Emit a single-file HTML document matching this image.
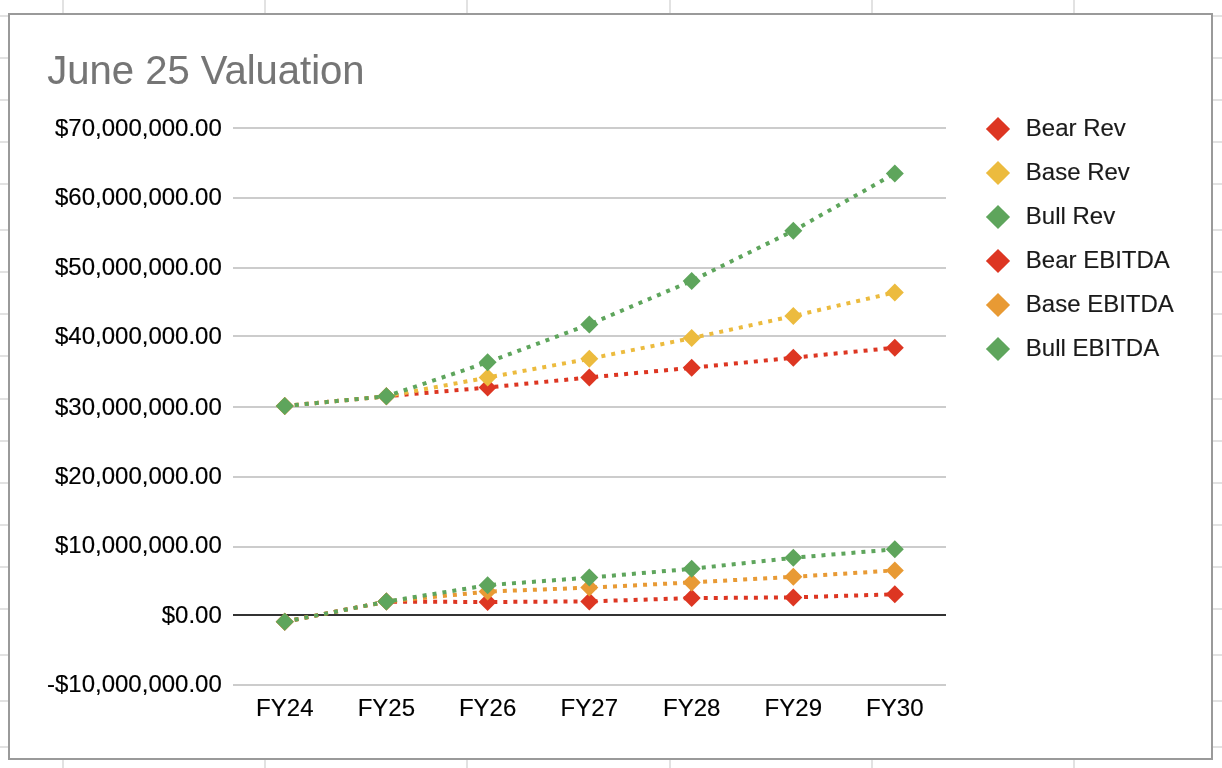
<!DOCTYPE html>
<html lang="en">
<head>
<meta charset="utf-8">
<title>June 25 Valuation</title>
<style>
html,body{margin:0;padding:0;background:#fff;}
body{width:1222px;height:768px;overflow:hidden;position:relative;font-family:"Liberation Sans",Arial,sans-serif;}
svg{position:absolute;left:0;top:0;display:block;}
text{font-family:"Liberation Sans",Arial,sans-serif;}
.ax text{font-size:24px;fill:#000000;stroke:#000000;stroke-width:0.15px;}
.ttl{font-size:40px;fill:#757575;stroke:#757575;stroke-width:0.1px;}
.lg text{font-size:24px;fill:#1a1a1a;stroke:#1a1a1a;stroke-width:0.15px;}
</style>
</head>
<body>
<svg width="1222" height="768" viewBox="0 0 1222 768">
<g id="sheet-grid" shape-rendering="crispEdges">
<rect x="0" y="15" width="1222" height="2" fill="#e2e2e2"/>
<rect x="0" y="57" width="1222" height="2" fill="#e2e2e2"/>
<rect x="0" y="99" width="1222" height="2" fill="#e2e2e2"/>
<rect x="0" y="141" width="1222" height="2" fill="#e2e2e2"/>
<rect x="0" y="183" width="1222" height="2" fill="#e2e2e2"/>
<rect x="0" y="229" width="1222" height="2" fill="#e2e2e2"/>
<rect x="0" y="271" width="1222" height="2" fill="#e2e2e2"/>
<rect x="0" y="313" width="1222" height="2" fill="#e2e2e2"/>
<rect x="0" y="355" width="1222" height="2" fill="#e2e2e2"/>
<rect x="0" y="398" width="1222" height="2" fill="#e2e2e2"/>
<rect x="0" y="440" width="1222" height="2" fill="#e2e2e2"/>
<rect x="0" y="482" width="1222" height="2" fill="#e2e2e2"/>
<rect x="0" y="524" width="1222" height="2" fill="#e2e2e2"/>
<rect x="0" y="566" width="1222" height="2" fill="#e2e2e2"/>
<rect x="0" y="608" width="1222" height="2" fill="#e2e2e2"/>
<rect x="0" y="654" width="1222" height="2" fill="#e2e2e2"/>
<rect x="0" y="700" width="1222" height="2" fill="#e2e2e2"/>
<rect x="0" y="746" width="1222" height="2" fill="#e2e2e2"/>
<rect x="62" y="0" width="2" height="768" fill="#e2e2e2"/>
<rect x="264" y="0" width="2" height="768" fill="#e2e2e2"/>
<rect x="466" y="0" width="2" height="768" fill="#e2e2e2"/>
<rect x="669" y="0" width="2" height="768" fill="#e2e2e2"/>
<rect x="871" y="0" width="2" height="768" fill="#e2e2e2"/>
<rect x="1073" y="0" width="2" height="768" fill="#e2e2e2"/>
</g>
<rect x="9" y="14" width="1203" height="745" fill="#ffffff" stroke="#9a9a9a" stroke-width="2"/>
<text class="ttl" x="47.3" y="84">June 25 Valuation</text>
<g id="gridlines">
<rect x="233" y="127" width="713" height="2" fill="#cccccc"/>
<rect x="233" y="197" width="713" height="2" fill="#cccccc"/>
<rect x="233" y="267" width="713" height="2" fill="#cccccc"/>
<rect x="233" y="335" width="713" height="2" fill="#cccccc"/>
<rect x="233" y="406" width="713" height="2" fill="#cccccc"/>
<rect x="233" y="476" width="713" height="2" fill="#cccccc"/>
<rect x="233" y="546" width="713" height="2" fill="#cccccc"/>
<rect x="233" y="684" width="713" height="2" fill="#cccccc"/>
<rect x="233" y="614" width="713" height="2" fill="#333333"/>
</g>
<g id="y-axis" class="ax" text-anchor="end">
<text x="221.8" y="136">$70,000,000.00</text>
<text x="221.8" y="205">$60,000,000.00</text>
<text x="221.8" y="275">$50,000,000.00</text>
<text x="221.8" y="344">$40,000,000.00</text>
<text x="221.8" y="415">$30,000,000.00</text>
<text x="221.8" y="484">$20,000,000.00</text>
<text x="221.8" y="553">$10,000,000.00</text>
<text x="221.8" y="623">$0.00</text>
<text x="221.8" y="692">-$10,000,000.00</text>
</g>
<g id="x-axis" class="ax" text-anchor="middle">
<text x="284.8" y="716.3">FY24</text>
<text x="386.4" y="716.3">FY25</text>
<text x="487.6" y="716.3">FY26</text>
<text x="589.3" y="716.3">FY27</text>
<text x="691.7" y="716.3">FY28</text>
<text x="793.3" y="716.3">FY29</text>
<text x="894.8" y="716.3">FY30</text>
</g>
<g id="series">
<g><polyline points="284.75,406.00 386.40,396.30 487.60,387.50 589.30,377.40 691.70,367.80 793.30,357.70 894.80,347.70" fill="none" stroke="#dd3622" stroke-width="4" stroke-dasharray="4 6.025"/>
<path d="M284.75 397.00L293.75 406.00L284.75 415.00L275.75 406.00Z" fill="#dd3622"/><path d="M386.40 387.30L395.40 396.30L386.40 405.30L377.40 396.30Z" fill="#dd3622"/><path d="M487.60 378.50L496.60 387.50L487.60 396.50L478.60 387.50Z" fill="#dd3622"/><path d="M589.30 368.40L598.30 377.40L589.30 386.40L580.30 377.40Z" fill="#dd3622"/><path d="M691.70 358.80L700.70 367.80L691.70 376.80L682.70 367.80Z" fill="#dd3622"/><path d="M793.30 348.70L802.30 357.70L793.30 366.70L784.30 357.70Z" fill="#dd3622"/><path d="M894.80 338.70L903.80 347.70L894.80 356.70L885.80 347.70Z" fill="#dd3622"/></g>
<g><polyline points="284.75,406.00 386.40,396.30 487.60,377.50 589.30,358.80 691.70,338.10 793.30,316.00 894.80,292.40" fill="none" stroke="#ecbb3e" stroke-width="4" stroke-dasharray="4 6.025"/>
<path d="M284.75 397.00L293.75 406.00L284.75 415.00L275.75 406.00Z" fill="#ecbb3e"/><path d="M386.40 387.30L395.40 396.30L386.40 405.30L377.40 396.30Z" fill="#ecbb3e"/><path d="M487.60 368.50L496.60 377.50L487.60 386.50L478.60 377.50Z" fill="#ecbb3e"/><path d="M589.30 349.80L598.30 358.80L589.30 367.80L580.30 358.80Z" fill="#ecbb3e"/><path d="M691.70 329.10L700.70 338.10L691.70 347.10L682.70 338.10Z" fill="#ecbb3e"/><path d="M793.30 307.00L802.30 316.00L793.30 325.00L784.30 316.00Z" fill="#ecbb3e"/><path d="M894.80 283.40L903.80 292.40L894.80 301.40L885.80 292.40Z" fill="#ecbb3e"/></g>
<g><polyline points="284.75,406.00 386.40,396.30 487.60,362.30 589.30,324.40 691.70,280.90 793.30,230.80 894.80,173.50" fill="none" stroke="#5ea55c" stroke-width="4" stroke-dasharray="4 6.025"/>
<path d="M284.75 397.00L293.75 406.00L284.75 415.00L275.75 406.00Z" fill="#5ea55c"/><path d="M386.40 387.30L395.40 396.30L386.40 405.30L377.40 396.30Z" fill="#5ea55c"/><path d="M487.60 353.30L496.60 362.30L487.60 371.30L478.60 362.30Z" fill="#5ea55c"/><path d="M589.30 315.40L598.30 324.40L589.30 333.40L580.30 324.40Z" fill="#5ea55c"/><path d="M691.70 271.90L700.70 280.90L691.70 289.90L682.70 280.90Z" fill="#5ea55c"/><path d="M793.30 221.80L802.30 230.80L793.30 239.80L784.30 230.80Z" fill="#5ea55c"/><path d="M894.80 164.50L903.80 173.50L894.80 182.50L885.80 173.50Z" fill="#5ea55c"/></g>
<g><polyline points="284.75,621.70 386.40,601.60 487.60,602.00 589.30,601.40 691.70,598.10 793.30,597.40 894.80,594.30" fill="none" stroke="#dd3622" stroke-width="4" stroke-dasharray="4 6.025"/>
<path d="M284.75 612.70L293.75 621.70L284.75 630.70L275.75 621.70Z" fill="#dd3622"/><path d="M386.40 592.60L395.40 601.60L386.40 610.60L377.40 601.60Z" fill="#dd3622"/><path d="M487.60 593.00L496.60 602.00L487.60 611.00L478.60 602.00Z" fill="#dd3622"/><path d="M589.30 592.40L598.30 601.40L589.30 610.40L580.30 601.40Z" fill="#dd3622"/><path d="M691.70 589.10L700.70 598.10L691.70 607.10L682.70 598.10Z" fill="#dd3622"/><path d="M793.30 588.40L802.30 597.40L793.30 606.40L784.30 597.40Z" fill="#dd3622"/><path d="M894.80 585.30L903.80 594.30L894.80 603.30L885.80 594.30Z" fill="#dd3622"/></g>
<g><polyline points="284.75,621.70 386.40,601.60 487.60,591.60 589.30,587.60 691.70,582.40 793.30,576.80 894.80,570.40" fill="none" stroke="#e89a34" stroke-width="4" stroke-dasharray="4 6.025"/>
<path d="M284.75 612.70L293.75 621.70L284.75 630.70L275.75 621.70Z" fill="#e89a34"/><path d="M386.40 592.60L395.40 601.60L386.40 610.60L377.40 601.60Z" fill="#e89a34"/><path d="M487.60 582.60L496.60 591.60L487.60 600.60L478.60 591.60Z" fill="#e89a34"/><path d="M589.30 578.60L598.30 587.60L589.30 596.60L580.30 587.60Z" fill="#e89a34"/><path d="M691.70 573.40L700.70 582.40L691.70 591.40L682.70 582.40Z" fill="#e89a34"/><path d="M793.30 567.80L802.30 576.80L793.30 585.80L784.30 576.80Z" fill="#e89a34"/><path d="M894.80 561.40L903.80 570.40L894.80 579.40L885.80 570.40Z" fill="#e89a34"/></g>
<g><polyline points="284.75,621.70 386.40,601.60 487.60,585.20 589.30,577.60 691.70,568.80 793.30,557.80 894.80,549.30" fill="none" stroke="#5ea55c" stroke-width="4" stroke-dasharray="4 6.025"/>
<path d="M284.75 612.70L293.75 621.70L284.75 630.70L275.75 621.70Z" fill="#5ea55c"/><path d="M386.40 592.60L395.40 601.60L386.40 610.60L377.40 601.60Z" fill="#5ea55c"/><path d="M487.60 576.20L496.60 585.20L487.60 594.20L478.60 585.20Z" fill="#5ea55c"/><path d="M589.30 568.60L598.30 577.60L589.30 586.60L580.30 577.60Z" fill="#5ea55c"/><path d="M691.70 559.80L700.70 568.80L691.70 577.80L682.70 568.80Z" fill="#5ea55c"/><path d="M793.30 548.80L802.30 557.80L793.30 566.80L784.30 557.80Z" fill="#5ea55c"/><path d="M894.80 540.30L903.80 549.30L894.80 558.30L885.80 549.30Z" fill="#5ea55c"/></g>
</g>
<g id="legend" class="lg">
<path d="M998.00 116.90L1010.10 129.00L998.00 141.10L985.90 129.00Z" fill="#dd3622"/><text x="1025.8" y="136">Bear Rev</text>
<path d="M998.00 160.90L1010.10 173.00L998.00 185.10L985.90 173.00Z" fill="#ecbb3e"/><text x="1025.8" y="180">Base Rev</text>
<path d="M998.00 204.90L1010.10 217.00L998.00 229.10L985.90 217.00Z" fill="#5ea55c"/><text x="1025.8" y="224">Bull Rev</text>
<path d="M998.00 248.90L1010.10 261.00L998.00 273.10L985.90 261.00Z" fill="#dd3622"/><text x="1025.8" y="268">Bear EBITDA</text>
<path d="M998.00 292.90L1010.10 305.00L998.00 317.10L985.90 305.00Z" fill="#e89a34"/><text x="1025.8" y="312">Base EBITDA</text>
<path d="M998.00 336.90L1010.10 349.00L998.00 361.10L985.90 349.00Z" fill="#5ea55c"/><text x="1025.8" y="356">Bull EBITDA</text>
</g>
</svg>
</body>
</html>
